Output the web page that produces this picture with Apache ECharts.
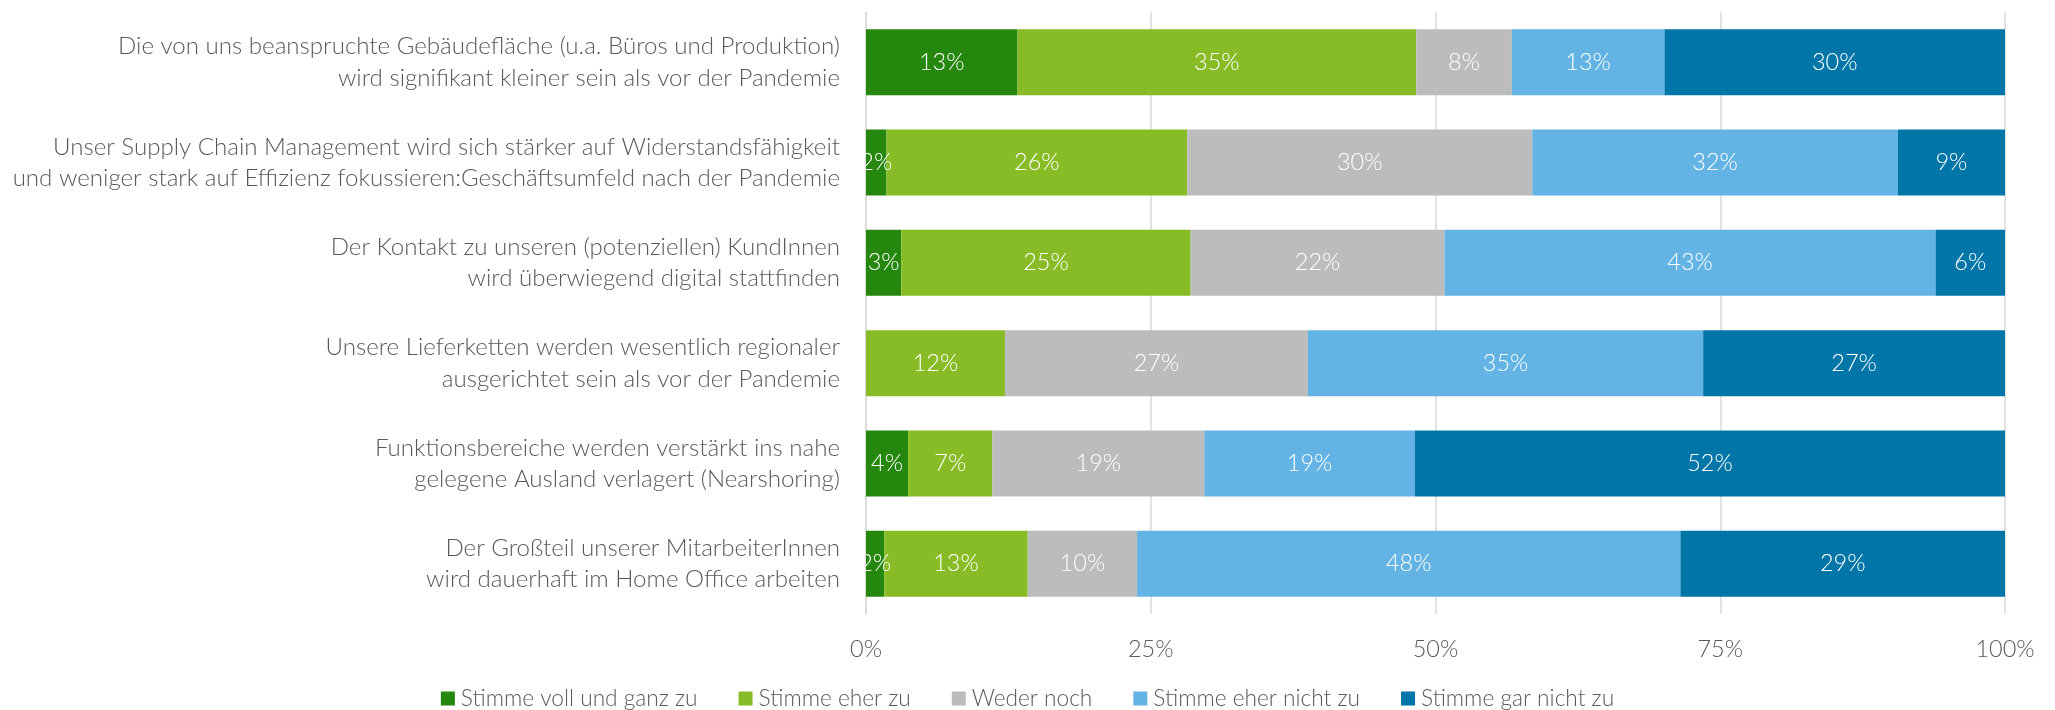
<!DOCTYPE html>
<html>
<head>
<meta charset="utf-8">
<script src="https://cdn.jsdelivr.net/npm/echarts@6/dist/echarts.min.js"></script>
<style>
html,body{margin:0;padding:0;background:#fff;}
#chart{width:2055px;height:710px;}
</style>
</head>
<body>
<div id="chart"></div>
<script>
const categories = [
  "Die von uns beanspruchte Gebäudefläche (u.a. Büros und Produktion)\nwird signifikant kleiner sein als vor der Pandemie",
  "Unser Supply Chain Management wird sich stärker auf Widerstandsfähigkeit\nund weniger stark auf Effizienz fokussieren:Geschäftsumfeld nach der Pandemie",
  "Der Kontakt zu unseren (potenziellen) KundInnen\nwird überwiegend digital stattfinden",
  "Unsere Lieferketten werden wesentlich regionaler\nausgerichtet sein als vor der Pandemie",
  "Funktionsbereiche werden verstärkt ins nahe\ngelegene Ausland verlagert (Nearshoring)",
  "Der Großteil unserer MitarbeiterInnen\nwird dauerhaft im Home Office arbeiten"
];
const seriesNames = ["Stimme voll und ganz zu", "Stimme eher zu", "Weder noch", "Stimme eher nicht zu", "Stimme gar nicht zu"];
const vollUndGanz = [13.3, 1.8, 3.1, 0, 3.7, 1.6];
const eherZu      = [35.0, 26.4, 25.4, 12.2, 7.4, 12.6];
const wederNoch   = [8.4, 30.3, 22.3, 26.6, 18.6, 9.6];
const eherNicht   = [13.4, 32.1, 43.1, 34.7, 18.5, 47.7];
const garNicht    = [29.9, 9.4, 6.1, 26.5, 51.8, 28.5];
const xTicks = [0, 25, 50, 75, 100];
const colors = ["#26870F", "#88BC27", "#BBBCBB", "#63B4E4", "#0076A8"];

const FONT = "Lato";
const W = 300;
const values = [vollUndGanz, eherZu, wederNoch, eherNicht, garNicht];

const chart = echarts.init(document.getElementById('chart'), null, {renderer: 'canvas'});
chart.setOption({
  animation: false,
  backgroundColor: '#fff',
  textStyle: {fontFamily: FONT, fontWeight: W},
  grid: {left: 866, right: 50, top: 12, bottom: 96, containLabel: false},
  legend: {
    data: seriesNames,
    left: 'center',
    top: 682,
    icon: 'rect',
    itemWidth: 14,
    itemHeight: 14,
    itemGap: 41,
    textStyle: {fontFamily: FONT, fontWeight: W, fontSize: 22.7, color: '#595959', padding: [0, 0, 0, 1]}
  },
  xAxis: {
    type: 'value',
    min: xTicks[0],
    max: xTicks[xTicks.length - 1],
    interval: xTicks[1] - xTicks[0],
    axisLine: {show: false},
    axisTick: {show: false},
    splitLine: {lineStyle: {color: '#D9D9D9', width: 1.5}},
    axisLabel: {formatter: '{value}%', fontFamily: FONT, fontWeight: W, fontSize: 23.5, color: '#595959', margin: 23}
  },
  yAxis: {
    type: 'category',
    data: categories,
    inverse: true,
    axisTick: {show: false},
    axisLine: {lineStyle: {color: '#D9D9D9', width: 1.5}},
    axisLabel: {fontFamily: FONT, fontWeight: W, fontSize: 24.1, lineHeight: 31.5, color: '#595959', margin: 26, align: 'right'}
  },
  series: seriesNames.map((name, i) => ({
    name: name,
    type: 'bar',
    stack: 'total',
    barWidth: 66,
    itemStyle: {color: colors[i]},
    label: {
      show: true,
      position: 'inside',
      color: '#fff',
      fontFamily: FONT,
      fontWeight: W,
      fontSize: 23.5,
      formatter: p => p.value > 0 ? Math.round(p.value) + '%' : ''
    },
    data: values[i]
  }))
});
</script>
</body>
</html>
